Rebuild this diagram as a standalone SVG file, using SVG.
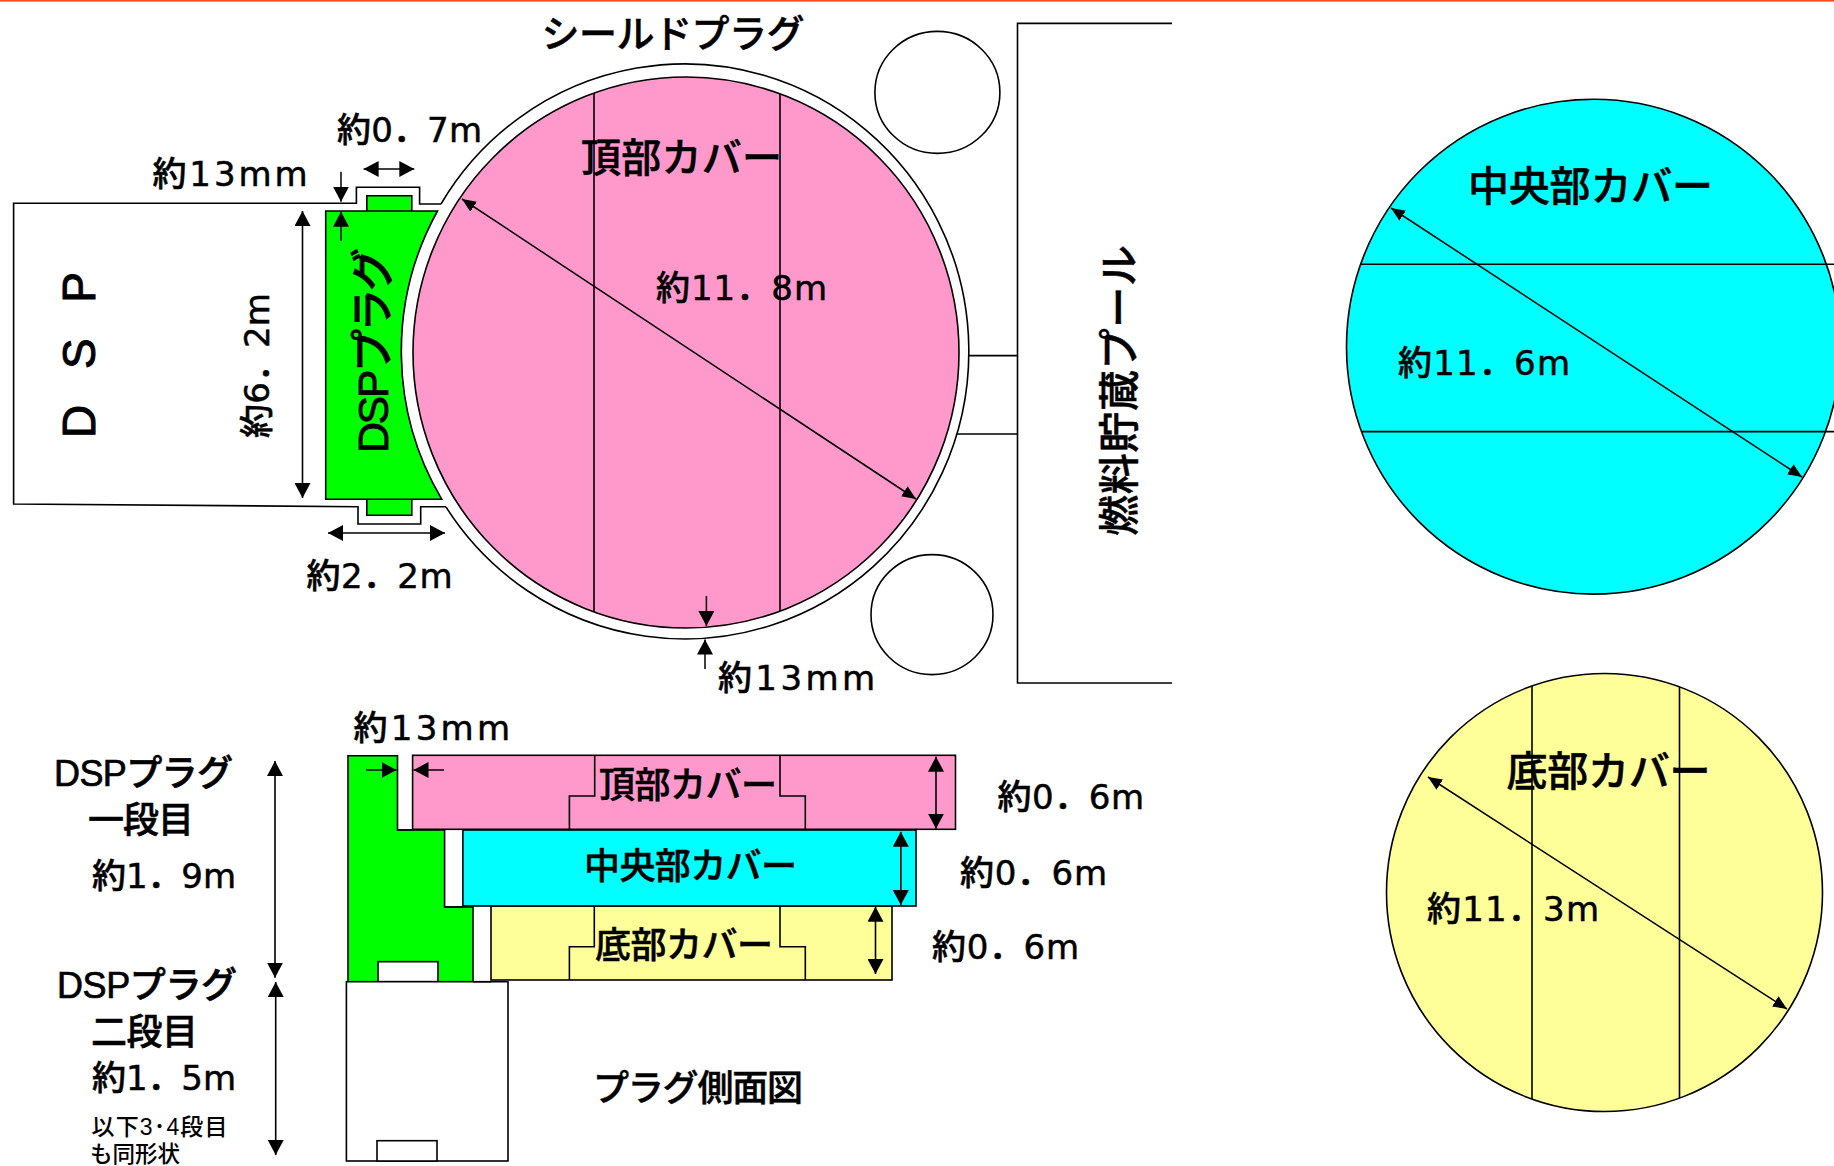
<svg xmlns="http://www.w3.org/2000/svg" width="1834" height="1166" viewBox="0 0 1834 1166">
<style>
text{font-family:"Liberation Sans","Noto Sans CJK JP",sans-serif;font-size:35px;font-weight:500;fill:#000;stroke:#000;stroke-width:.5}
text.n{font-family:"DejaVu Sans","Noto Sans CJK JP",sans-serif;font-size:34px}
.s{fill:none;stroke:#000;stroke-width:1.6}
.f{stroke:#000;stroke-width:1.6}
.p{fill:#ff99cc}.g{fill:#00ff00}.c{fill:#00ffff}.y{fill:#ffff99}.w{fill:#fff}
.a{fill:none;stroke:#000;stroke-width:1.5;marker-end:url(#h)}
.d{fill:none;stroke:#000;stroke-width:1.6;marker-start:url(#h);marker-end:url(#h)}
.t{fill:none;stroke:#000;stroke-width:1.5;marker-start:url(#t);marker-end:url(#t)}
</style>
<defs>
<marker id="h" markerUnits="userSpaceOnUse" markerWidth="16" markerHeight="16" refX="15" refY="8" orient="auto-start-reverse"><path d="M0 0L15 8L0 16Z"/></marker>
<marker id="t" markerUnits="userSpaceOnUse" markerWidth="14" markerHeight="14" refX="14" refY="7" orient="auto-start-reverse"><path d="M0 1L14 7L0 13Z"/></marker>
</defs>
<rect x="0" y="0" width="1834" height="1166" fill="#fff"/>
<rect x="0" y="0" width="1834" height="1.6" fill="#ff4426"/>

<g id="dsp">
<path class="s" d="M443 204H419.6V187.3H356.4V203.3H13.6V504L358 506.7V524H420.7V506.7H447"/>
<text transform="translate(94.5 438) rotate(-90)" style="font-size:46px;stroke-width:1" textLength="166">D S P</text>
</g>
<g id="shield-plug">
<path class="f w" d="M441 204A284 287.5 0 1 1 446 507" />
<ellipse class="f p" cx="686" cy="352.5" rx="273" ry="275.5"/>
<path class="s" d="M594 93V612M780 94V611"/>
<text x="541.5" y="47" style="font-size:38px" textLength="263">シールドプラグ</text>
<text x="581" y="172" style="font-size:40px" textLength="201">頂部カバー</text>
<text class="n" x="656" y="300" textLength="171">約11．8m</text>
</g>
<g id="dsp-plug">
<path class="f g" d="M366.8 211V195.7H411.8V211M411.8 499.3V515.3H366.8V499.3"/>
<path class="f g" d="M325.7 211H437.5A284 287.5 0 0 0 441.8 499.3H325.7Z"/>
<text transform="translate(388 453) rotate(-90)" style="font-size:43px;stroke-width:.8" textLength="205">DSPプラグ</text>
</g>
<g id="pool">
<path class="s" d="M1172 23.4H1017.5V683H1172"/>
<path class="s" d="M968 355.6H1017.5M957 434H1017.5"/>
<text transform="translate(1134 536) rotate(-90)" style="font-size:41px" textLength="291">燃料貯蔵プール</text>
</g>
<g id="circle-top"><ellipse class="f w" cx="937.4" cy="92.4" rx="62.5" ry="61"/></g>
<g id="circle-bottom"><ellipse class="f w" cx="932" cy="614.6" rx="61" ry="60"/></g>

<g id="center-cover">
<ellipse class="f c" cx="1593.5" cy="346.7" rx="247" ry="247.4"/>
<path class="s" d="M1360 264.3H1834M1361 431.6H1834"/>
<text x="1468" y="201" style="font-size:41px" textLength="245">中央部カバー</text>
<text class="n" x="1398" y="375" textLength="172">約11．6m</text>
</g>
<g id="bottom-cover">
<ellipse class="f y" cx="1604.5" cy="892.5" rx="218" ry="219"/>
<path class="s" d="M1532 685.8V1099M1679.5 687V1098"/>
<text x="1506.4" y="786" style="font-size:41px" textLength="204">底部カバー</text>
<text class="n" x="1427" y="921" textLength="172">約11．3m</text>
</g>

<g id="side-view">
<path class="f g" d="M348 755.7H397.5V830H444.6V907H473V981.7H348Z"/>
<rect class="f w" x="378" y="961.7" width="60" height="20"/>
<rect class="f w" x="346.4" y="981.7" width="161.6" height="179.3"/>
<rect class="f w" x="377" y="1140.7" width="60" height="20.3"/>
<rect class="f p" x="412.6" y="755.3" width="542.9" height="74"/>
<path class="s" d="M594.7 755.3V796H569.4V829.3M780 755.3V796H805.3V829.3"/>
<rect class="f y" x="491" y="906" width="401" height="74"/>
<path class="s" d="M594.3 906V946.7H569.4V980M780 906V946.7H805.3V980"/>
<rect class="f c" x="462.9" y="830" width="453.1" height="76"/>
<path class="s" d="M397.5 830H412.6M444.6 907H462.9M473 981.7H491"/>
<text x="599" y="798" style="font-size:36px" textLength="178">頂部カバー</text>
<text x="584" y="879" style="font-size:36px" textLength="213">中央部カバー</text>
<text x="595" y="958" style="font-size:36px" textLength="178">底部カバー</text>
<text x="593" y="1101" style="font-size:36px" textLength="210">プラグ側面図</text>
<text x="54" y="786" style="font-size:36px;stroke-width:.7" textLength="179">DSPプラグ</text>
<text x="88" y="833" style="font-size:36px" textLength="106">一段目</text>
<text class="n" x="92" y="888" textLength="144">約1．9m</text>
<text x="57" y="998" style="font-size:36px;stroke-width:.7" textLength="180">DSPプラグ</text>
<text x="91" y="1045" style="font-size:36px" textLength="107">二段目</text>
<text class="n" x="92" y="1090" textLength="144">約1．5m</text>
<text x="91.5" y="1135" style="font-size:23px;stroke-width:0" textLength="136">以下3･4段目</text>
<text x="90" y="1162" style="font-size:22.5px;stroke-width:0" textLength="90">も同形状</text>
</g>

<g id="dimension-labels">
<text class="n" x="337" y="141.7" textLength="145">約0．7m</text>
<text class="n" x="152.5" y="186" textLength="155">約13mm</text>
<text class="n" transform="translate(268.5 438) rotate(-90)" textLength="145">約6．2m</text>
<text class="n" x="306.5" y="588" textLength="146">約2．2m</text>
<text class="n" x="718" y="690" textLength="157">約13mm</text>
<text class="n" x="353.6" y="740" textLength="156.4">約13mm</text>
<text class="n" x="997.6" y="809" textLength="146.4">約0．6m</text>
<text class="n" x="960" y="885" textLength="147">約0．6m</text>
<text class="n" x="932" y="959" textLength="147">約0．6m</text>
</g>

<g id="connectors">
<path class="a" d="M341 171.7V201.7"/>
<path class="a" d="M341 241V211.7"/>
<path class="d" d="M363.6 169H414.3"/>
<path class="d" d="M302.5 211V498"/>
<path class="d" d="M328 533H445"/>
<path class="t" d="M462 199L916 499"/>
<path class="a" d="M706.4 596V626"/>
<path class="a" d="M705 669V639.5"/>
<path class="d" d="M275 761V977.7"/>
<path class="d" d="M275.7 982V1155"/>
<path class="a" d="M366 770H396.5"/>
<path class="a" d="M444 770H413.5"/>
<path class="d" d="M936 756.7V828.7"/>
<path class="d" d="M900.8 831.7V905"/>
<path class="d" d="M875.5 906.7V974"/>
<path class="t" d="M1391 208L1802 477"/>
<path class="t" d="M1428 777L1787 1009"/>
</g>
</svg>
